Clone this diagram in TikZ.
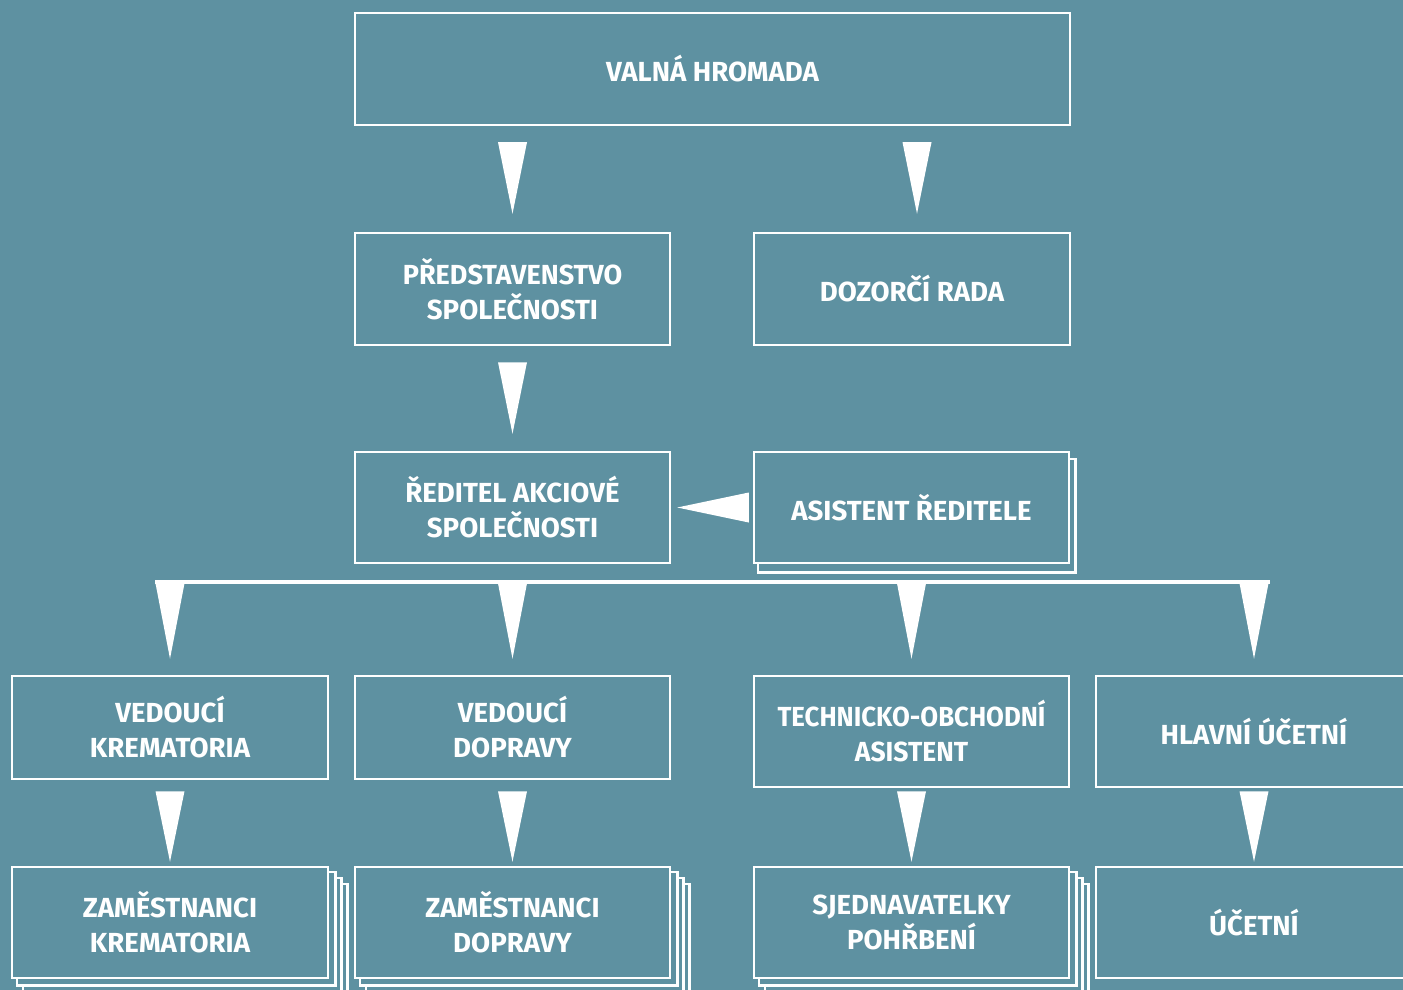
\documentclass[tikz,border=0pt]{standalone}
\usepackage{fontspec}
\setmainfont{Fira Sans}
\usetikzlibrary{calc,backgrounds}
\definecolor{bg}{RGB}{94,145,161}
\begin{document}
\begin{tikzpicture}[x=0.5pt,y=-0.5pt,
  box/.style={draw=white, line width=1.25pt, fill=bg, text=white,
    font=\bfseries\fontsize{13.8}{17.5}\selectfont, align=center, inner sep=0pt},
  shadowbox/.style={draw=white, line width=1.25pt, fill=bg},
  tri/.style={fill=white},
  bus/.style={draw=white, line width=2.25pt}]
\useasboundingbox (0,0) rectangle (1403,990);
\clip (0,0) rectangle (1403,990);
\begin{pgfonlayer}{background}
\fill[bg] (0,0) rectangle (1403,990);
\end{pgfonlayer}
% nodes
\node[box, minimum width=357.5pt, minimum height=56pt] (vh) at (712.5,69) {VALNÁ HROMADA};
\node[box, minimum width=157.5pt, minimum height=56pt] (ps) at (512.5,289) {\scalebox{0.98}[1]{PŘEDSTAVENSTVO}\\SPOLEČNOSTI};
\node[box, minimum width=158pt, minimum height=56pt] (dr) at (912,289) {DOZORČÍ RADA};
\node[box, minimum width=157.5pt, minimum height=55.5pt] (ra) at (512.5,507.5) {ŘEDITEL AKCIOVÉ\\SPOLEČNOSTI};
\node[box, minimum width=157.5pt, minimum height=55.5pt] (as) at (911.5,507.5) {ASISTENT ŘEDITELE};
\node[box, minimum width=158pt, minimum height=51.5pt] (vk) at (170,727.5) {VEDOUCÍ\\KREMATORIA};
\node[box, minimum width=157.5pt, minimum height=51.5pt] (vd) at (512.5,727.5) {VEDOUCÍ\\DOPRAVY};
\node[box, minimum width=157.5pt, minimum height=55.5pt] (ta) at (911.5,731.5) {\scalebox{0.935}[1]{TECHNICKO-OBCHODNÍ}\\\scalebox{0.96}[1]{ASISTENT}};
\node[box, minimum width=158pt, minimum height=55.5pt] (hu) at (1254,731.5) {HLAVNÍ ÚČETNÍ};
\node[box, minimum width=158pt, minimum height=55.5pt] (zk) at (170,922.5) {ZAMĚSTNANCI\\KREMATORIA};
\node[box, minimum width=157.5pt, minimum height=55.5pt] (zd) at (512.5,922.5) {ZAMĚSTNANCI\\DOPRAVY};
\node[box, minimum width=157.5pt, minimum height=55.5pt] (sp) at (911.5,922.5) {SJEDNAVATELKY\\POHŘBENÍ};
\node[box, minimum width=158pt, minimum height=55.5pt] (uc) at (1254,922.5) {ÚČETNÍ};
% stacked copies
\begin{pgfonlayer}{background}
\draw[shadowbox] ($(as.south west)+(5,8)$) rectangle ($(as.north east)+(5,8)$);
\foreach \n in {zk,zd,sp}{
  \foreach \d in {18,12,6}{
    \draw[shadowbox] ($(\n.south west)+(\d,\d)$) rectangle ($(\n.north east)+(\d,\d)$);
  }
}
\end{pgfonlayer}
% bus line
\coordinate (busL) at ($(vk.north)+(-15,-93)$);
\coordinate (busR) at ($(hu.north)+(16,-93)$);
\draw[bus] (busL) -- (busR);
% arrows
\fill[tri] ($(vh.south -| ps.south)+(-14.5,16)$) -- ($(vh.south -| ps.south)+(14.5,16)$) -- ($(ps.north)+(0,-18)$) -- cycle;
\fill[tri] ($(vh.south -| dr.south)+(-9.5,16)$) -- ($(vh.south -| dr.south)+(19.5,16)$) -- ($(dr.north)+(5,-18)$) -- cycle;
\fill[tri] ($(ps.south)+(-14.5,16)$) -- ($(ps.south)+(14.5,16)$) -- ($(ra.north)+(0,-17)$) -- cycle;
\fill[tri] ($(as.west)+(-4,-15)$) -- ($(as.west)+(-4,15)$) -- ($(ra.east)+(6,0)$) -- cycle;
\foreach \n in {vk,vd,ta,hu}{
  \fill[tri] ($(busL -| \n.north)+(-15,-1)$) -- ($(busL -| \n.north)+(15,-1)$) -- ($(\n.north)+(0,-16)$) -- cycle;
}
\fill[tri] ($(vk.south |- hu.south)+(-14.5,3)$) -- ($(vk.south |- hu.south)+(14.5,3)$) -- ($(zk.north)+(0,-4)$) -- cycle;
\fill[tri] ($(vd.south |- hu.south)+(-14.5,3)$) -- ($(vd.south |- hu.south)+(14.5,3)$) -- ($(zd.north)+(0,-4)$) -- cycle;
\fill[tri] ($(ta.south)+(-14.5,3)$) -- ($(ta.south)+(14.5,3)$) -- ($(sp.north)+(0,-4)$) -- cycle;
\fill[tri] ($(hu.south)+(-14.5,3)$) -- ($(hu.south)+(14.5,3)$) -- ($(uc.north)+(0,-4)$) -- cycle;
\end{tikzpicture}
\end{document}
